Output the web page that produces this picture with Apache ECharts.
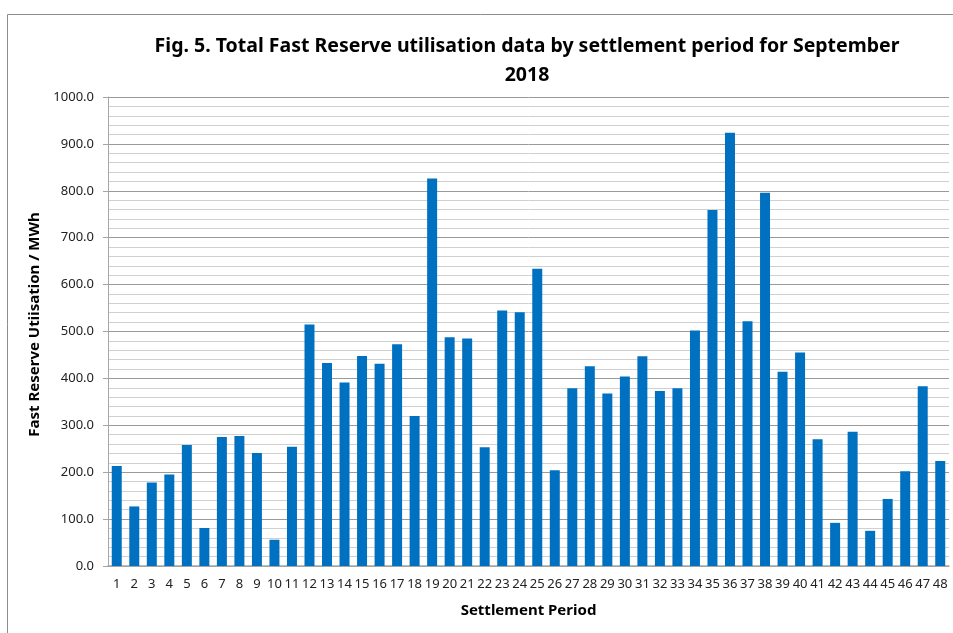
<!DOCTYPE html>
<html>
<head>
<meta charset="utf-8">
<script src="https://cdn.jsdelivr.net/npm/echarts@6/dist/echarts.min.js"></script>
<style>
html,body{margin:0;padding:0;background:#fff;}
#chart{width:953px;height:633px;}
</style>
</head>
<body>
<div id="chart"></div>
<script>
const categories = ['1','2','3','4','5','6','7','8','9','10','11','12','13','14','15','16','17','18','19','20','21','22','23','24','25','26','27','28','29','30','31','32','33','34','35','36','37','38','39','40','41','42','43','44','45','46','47','48'];
const utilisation = [213,127,178,195,258,81,275,277,241,56,254,515,433,391,448,431,473,320,826,488,485,253,545,541,634,204,379,426,368,404,447,373,379,502,759,924,522,796,414,455,270,92,286,75,143,202,383,224];
const yTicks = {min:0, max:1000, interval:100};
const titleText = 'Fig. 5. Total Fast Reserve utilisation data by settlement period for September\n2018';
const xName = 'Settlement Period';
const yName = 'Fast Reserve Utiisation / MWh';

const FONT = "'Noto Sans', 'Open Sans', sans-serif";
const chart = echarts.init(document.getElementById('chart'), null, {renderer:'canvas'});
chart.setOption({
  backgroundColor:'#ffffff',
  animation:false,
  graphic:[{
    type:'rect', left:5, top:12, shape:{x:0,y:0,width:960,height:640},
    style:{fill:'none', stroke:'#8c8c8c', lineWidth:1}, silent:true, z:-1
  }],
  title:{
    text:titleText,
    left:522, top:27, textAlign:'center',
    textStyle:{fontFamily:FONT, fontWeight:'bold', fontSize:19.5, lineHeight:29, color:'#000'}
  },
  grid:{left:108, right:4, top:97, bottom:67, containLabel:false},
  xAxis:{
    type:'category', data:categories,
    name:xName, nameLocation:'middle', nameGap:37,
    nameTextStyle:{fontFamily:FONT, fontWeight:'bold', fontSize:15, color:'#000'},
    axisLine:{lineStyle:{color:'#a6a6a6', width:1.5}},
    axisTick:{show:false},
    axisLabel:{interval:0, fontFamily:FONT, fontSize:13, color:'#222', margin:12}
  },
  yAxis:{
    type:'value', min:yTicks.min, max:yTicks.max, interval:yTicks.interval,
    name:yName, nameLocation:'middle', nameGap:62,
    nameTextStyle:{fontFamily:FONT, fontWeight:'bold', fontSize:15, color:'#000', padding:[0,0,0,14]},
    axisLine:{show:true, lineStyle:{color:'#a6a6a6', width:1}},
    axisTick:{show:true, length:5, lineStyle:{color:'#a6a6a6'}},
    axisLabel:{fontFamily:FONT, fontSize:13, color:'#222', margin:14, formatter:v=>v.toFixed(1)},
    splitLine:{show:true, lineStyle:{color:'#9a9a9a', width:1}},
    minorTick:{show:false, splitNumber:5},
    minorSplitLine:{show:true, lineStyle:{color:'#d0d0d0', width:1}}
  },
  series:[{
    type:'bar', data:utilisation, barWidth:'57%',
    itemStyle:{color:'#0070c0'}
  }]
});
</script>
</body>
</html>
